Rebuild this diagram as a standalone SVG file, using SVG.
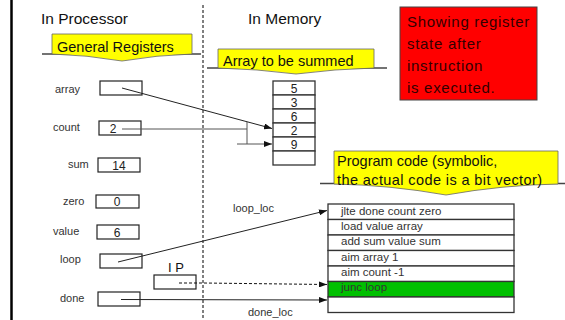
<svg xmlns="http://www.w3.org/2000/svg" width="565" height="320" viewBox="0 0 565 320">
<defs>
<marker id="ah" markerWidth="8" markerHeight="6" refX="8" refY="3" orient="auto" markerUnits="userSpaceOnUse">
<path d="M0,0 L8,3 L0,6 Z" fill="#111"/>
</marker>
<style>
text{font-family:"Liberation Sans",Arial,sans-serif;}
.hd{font-size:15.5px;fill:#111;}
.bn{font-size:14.5px;fill:#111;}
.bp{font-size:14.5px;fill:#111;}
.lb{font-size:11px;fill:#333;}
.reg{fill:#fff;stroke:#222;stroke-width:1.2;}
.val{font-size:12px;fill:#222;text-anchor:middle;}
.ban{fill:#ffff00;stroke:#666;stroke-width:0.8;}
.bl{stroke:#444;stroke-width:1.5;fill:none;}
.cell{fill:#fff;stroke:#333;stroke-width:1.3;}
.code{font-size:11.5px;fill:#333;}
.ln{stroke:#222;stroke-width:1;fill:none;}
.red{font-size:15px;fill:#300;letter-spacing:0.7px;}
</style>
</defs>
<rect width="565" height="320" fill="#fff"/>
<line x1="11.5" y1="0" x2="11.5" y2="320" stroke="#000" stroke-width="2.5"/>
<line x1="203" y1="5" x2="203" y2="320" stroke="#000" stroke-width="1" stroke-dasharray="3,2"/>

<g id="headers">
<text class="hd" x="41" y="24">In Processor</text>
<text class="hd" x="248" y="24">In Memory</text>
</g>

<g id="banner-registers">
<line class="bl" x1="42" y1="54" x2="201" y2="54"/>
<path class="ban" d="M52,34 H192 V54 Q157,55 122,61 Q87,55 52,54 Z"/>
<text class="bn" x="57" y="52">General Registers</text>
</g>

<g id="banner-array">
<line class="bl" x1="207" y1="68" x2="387" y2="68"/>
<path class="ban" d="M218,49 H374 V68 Q335,69 296,74 Q257,69 218,68 Z"/>
<text class="bn" x="223" y="66">Array to be summed</text>
</g>

<g id="note">
<rect x="400" y="7" width="137" height="93" fill="#ff0000" stroke="#444" stroke-width="1"/>
<text class="red" x="407" y="27">Showing register</text>
<text class="red" x="407" y="49">state after</text>
<text class="red" x="407" y="71">instruction</text>
<text class="red" x="407" y="93">is executed.</text>
</g>

<g id="reg-array"><text class="lb" x="55" y="93">array</text><rect class="reg" x="100" y="81" width="42" height="14"/></g>
<g id="reg-count"><text class="lb" x="53" y="131">count</text><rect class="reg" x="99" y="121" width="42" height="14"/><text class="val" x="113" y="133">2</text></g>
<g id="reg-sum"><text class="lb" x="68" y="168">sum</text><rect class="reg" x="98" y="158" width="42" height="14"/><text class="val" x="119" y="170">14</text></g>
<g id="reg-zero"><text class="lb" x="63" y="205">zero</text><rect class="reg" x="96" y="195" width="43" height="13"/><text class="val" x="117" y="206">0</text></g>
<g id="reg-value"><text class="lb" x="53" y="235">value</text><rect class="reg" x="97" y="225" width="42" height="14"/><text class="val" x="117" y="237">6</text></g>
<g id="reg-loop"><text class="lb" x="60" y="263">loop</text><rect class="reg" x="100" y="254" width="42" height="14"/></g>
<g id="reg-ip"><text class="hd" x="168" y="272" style="font-size:13px">I P</text><rect class="reg" x="154" y="275" width="42" height="14"/></g>
<g id="reg-done"><text class="lb" x="60" y="302">done</text><rect class="reg" x="98" y="292" width="42" height="14"/></g>

<g id="memory-array">
<rect class="cell" x="273" y="81" width="42" height="14"/>
<rect class="cell" x="273" y="95" width="42" height="14"/>
<rect class="cell" x="273" y="109" width="42" height="14"/>
<rect class="cell" x="273" y="123" width="42" height="14"/>
<rect class="cell" x="273" y="137" width="42" height="14"/>
<rect class="cell" x="273" y="151" width="42" height="14"/>
<text class="val" x="294" y="93">5</text>
<text class="val" x="294" y="107">3</text>
<text class="val" x="294" y="121">6</text>
<text class="val" x="294" y="135">2</text>
<text class="val" x="294" y="149">9</text>
</g>

<g id="banner-program">
<line class="bl" x1="320" y1="183.5" x2="565" y2="183.5"/>
<path class="ban" d="M334,151 H558 V184 Q502,185 446,195 Q390,185 334,184 Z"/>
<text class="bp" x="337" y="166">Program code (symbolic,</text>
<text class="bp" x="337" y="185" style="letter-spacing:0.4px">the actual code is a bit vector)</text>
</g>

<g id="program-code">
<rect class="cell" x="328" y="204" width="186" height="15.5"/>
<rect class="cell" x="328" y="219.5" width="186" height="15.5"/>
<rect class="cell" x="328" y="235" width="186" height="15.5"/>
<rect class="cell" x="328" y="250.5" width="186" height="15.5"/>
<rect class="cell" x="328" y="266" width="186" height="15.5"/>
<rect x="328" y="281.5" width="186" height="15.5" fill="#00c000" stroke="#333" stroke-width="1.3"/>
<rect class="cell" x="328" y="297" width="186" height="15.5"/>
<text class="code" x="341" y="215">jlte done count zero</text>
<text class="code" x="341" y="230">load value array</text>
<text class="code" x="341" y="245">add sum value sum</text>
<text class="code" x="341" y="261">aim array 1</text>
<text class="code" x="341" y="276">aim count -1</text>
<text class="code" x="341" y="291">junc loop</text>
</g>

<g id="connectors">
<line class="ln" x1="122" y1="88" x2="272" y2="128.5" marker-end="url(#ah)"/>
<polyline points="122,129 247,129" stroke="#555" stroke-width="1" fill="none"/>
<line x1="247" y1="122" x2="247" y2="144" stroke="#555" stroke-width="1"/>
<line x1="237" y1="144" x2="272" y2="144" stroke="#555" stroke-width="1" marker-end="url(#ah)"/>
<line class="ln" x1="118" y1="262" x2="327" y2="210.5" marker-end="url(#ah)"/>
<polyline points="179,283 203,283 327,284.5" fill="none" stroke="#111" stroke-width="1" stroke-dasharray="3,2" marker-end="url(#ah)"/>
<line class="ln" x1="121" y1="299.5" x2="327" y2="300" marker-end="url(#ah)"/>
<text class="lb" x="233" y="212">loop_loc</text>
<text class="lb" x="248" y="316">done_loc</text>
</g>
</svg>
